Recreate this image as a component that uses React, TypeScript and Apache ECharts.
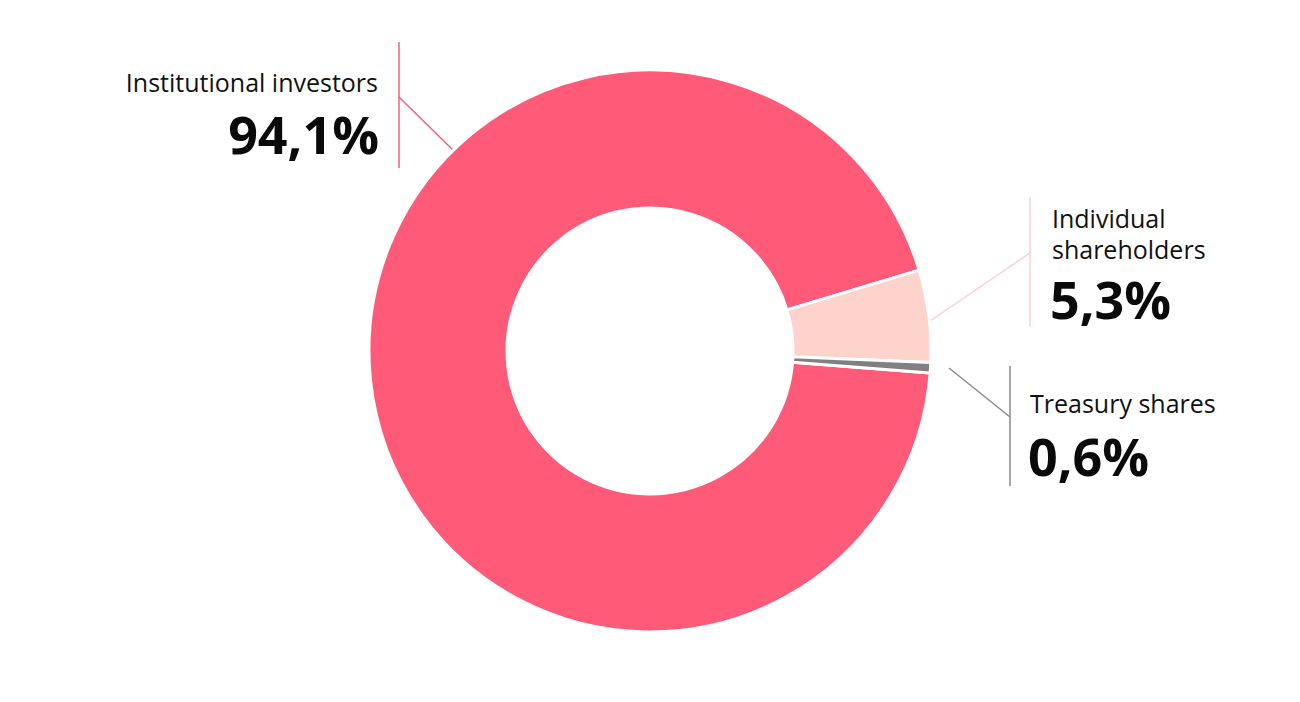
import React, { useEffect, useRef } from "react";
import * as echarts from "echarts";

const categories = ["Institutional investors", "Individual shareholders", "Treasury shares"];
const labelTitles = [["Institutional investors"], ["Individual", "shareholders"], ["Treasury shares"]];
const values = [94.1, 5.3, 0.6];
const colors = ["#FF5A78", "#FDD3CB", "#808080"];
const lineColors = ["#F2607C", "#F8D2CB", "#8A8A8A"];

const fmt = (v: number) => v.toFixed(1).replace(".", ",") + "%";

export default function App() {
  const ref = useRef<HTMLDivElement>(null);
  useEffect(() => {
    document.body.style.margin = "0";
    if (!ref.current) return;
    const chart = echarts.init(ref.current, undefined, { renderer: "svg" });
    const font = "'Open Sans', sans-serif";
    const titleStyle = { fill: "#111", fontSize: 25, fontFamily: font, lineHeight: 31 };
    const pctStyle = { fill: "#0a0a0a", fontSize: 52, fontWeight: "bold" as const, fontFamily: font };

    const graphic: any[] = [
      // Institutional investors
      { type: "line", shape: { x1: 399, y1: 42, x2: 399, y2: 168 }, style: { stroke: lineColors[0], lineWidth: 1.5 } },
      { type: "line", shape: { x1: 399, y1: 97, x2: 455, y2: 152 }, style: { stroke: lineColors[0], lineWidth: 1.5 } },
      { type: "text", x: 378, y: 82, style: { ...titleStyle, text: labelTitles[0].join("\n"), textAlign: "right", textVerticalAlign: "middle" } },
      { type: "text", x: 379, y: 133, style: { ...pctStyle, text: fmt(values[0]), textAlign: "right", textVerticalAlign: "middle" } },
      // Individual shareholders
      { type: "line", shape: { x1: 1030, y1: 197, x2: 1030, y2: 327 }, style: { stroke: lineColors[1], lineWidth: 1.5 } },
      { type: "line", shape: { x1: 930, y1: 321, x2: 1030, y2: 253 }, style: { stroke: lineColors[1], lineWidth: 1.5 } },
      { type: "text", x: 1052, y: 202, style: { ...titleStyle, text: labelTitles[1].join("\n"), textAlign: "left", textVerticalAlign: "top" } },
      { type: "text", x: 1050, y: 298, style: { ...pctStyle, text: fmt(values[1]), textAlign: "left", textVerticalAlign: "middle" } },
      // Treasury shares
      { type: "line", shape: { x1: 1010, y1: 366, x2: 1010, y2: 486 }, style: { stroke: lineColors[2], lineWidth: 1.5 } },
      { type: "line", shape: { x1: 949, y1: 368, x2: 1010, y2: 417 }, style: { stroke: lineColors[2], lineWidth: 1.5 } },
      { type: "text", x: 1030, y: 403, style: { ...titleStyle, text: labelTitles[2].join("\n"), textAlign: "left", textVerticalAlign: "middle" } },
      { type: "text", x: 1028, y: 455, style: { ...pctStyle, text: fmt(values[2]), textAlign: "left", textVerticalAlign: "middle" } },
    ];

    chart.setOption({
      animation: false,
      backgroundColor: "#ffffff",
      series: [
        {
          type: "pie",
          center: [650, 351],
          radius: [143, 281],
          startAngle: -4.5,
          clockwise: true,
          label: { show: false },
          labelLine: { show: false },
          itemStyle: { borderColor: "#ffffff", borderWidth: 3 },
          emphasis: { disabled: true },
          data: categories.map((name, i) => ({ name, value: values[i], itemStyle: { color: colors[i] } })),
        },
      ],
      graphic,
    });
    return () => chart.dispose();
  }, []);
  return <div ref={ref} style={{ width: 1300, height: 702 }} />;
}
